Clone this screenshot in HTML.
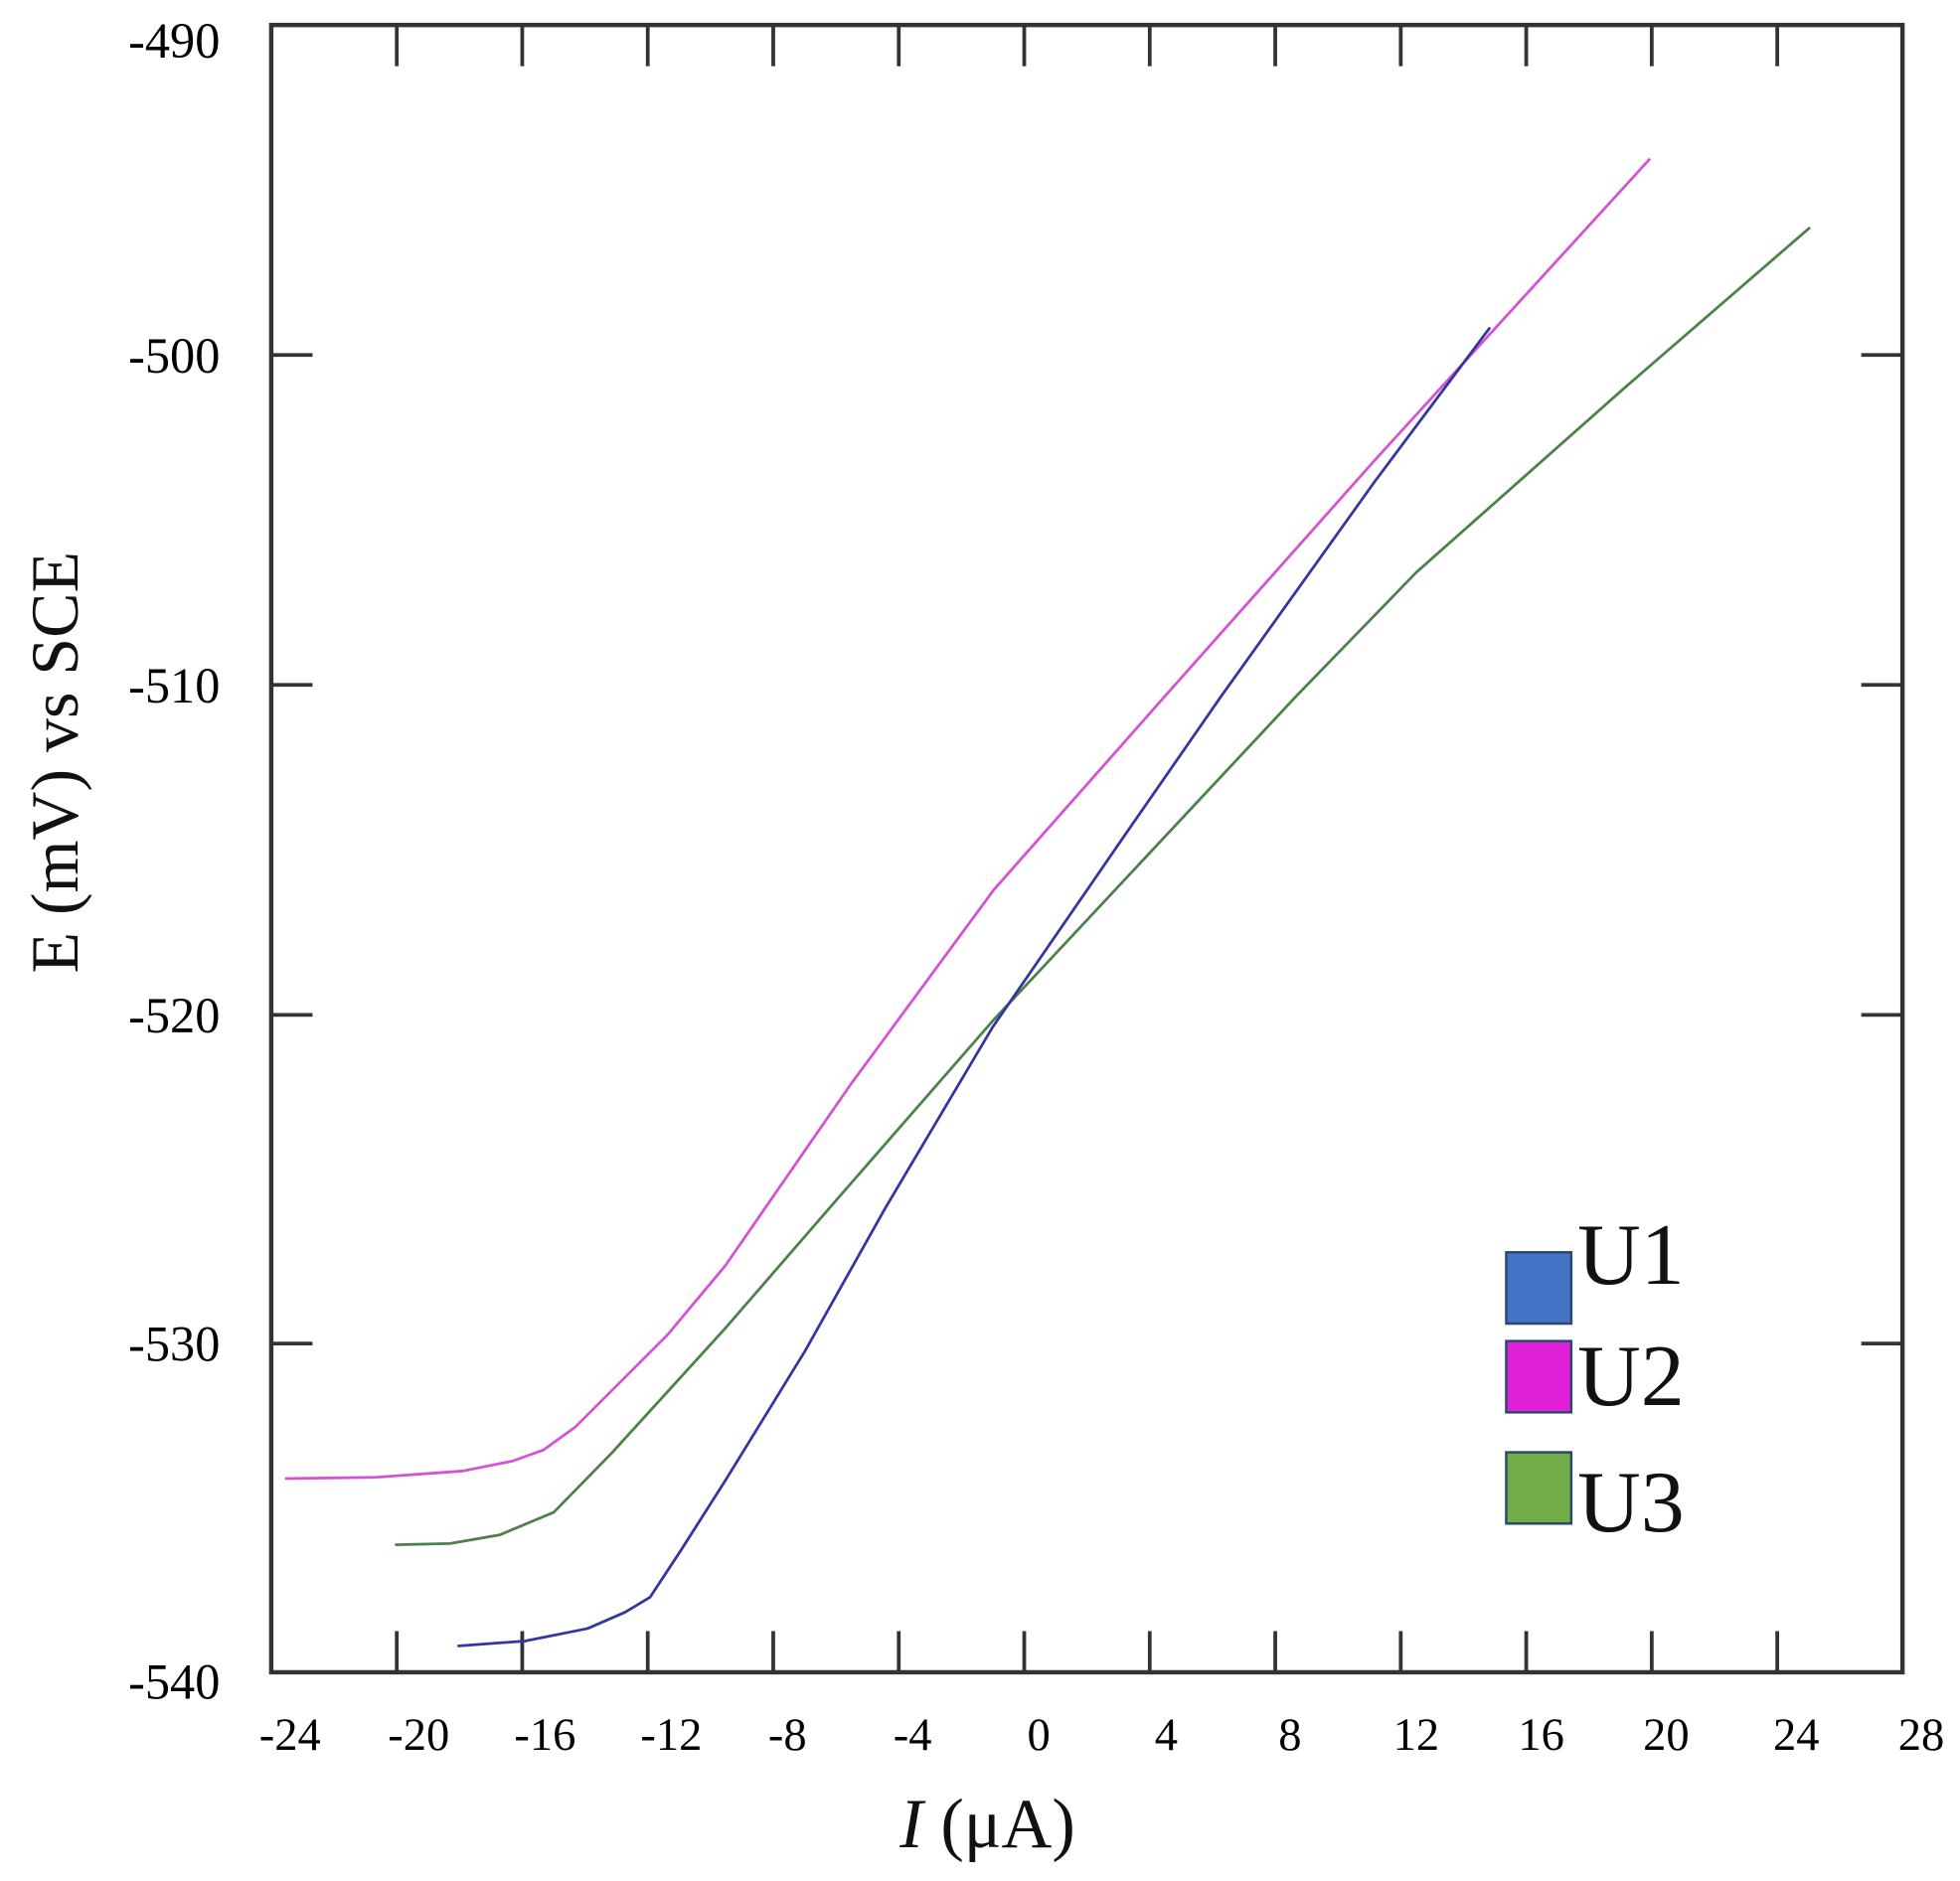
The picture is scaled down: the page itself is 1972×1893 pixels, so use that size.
<!DOCTYPE html>
<html><head><meta charset="utf-8"><style>html,body{margin:0;padding:0;background:#fff}svg{display:block}</style></head>
<body>
<svg width="1972" height="1893" viewBox="0 0 1568 1505" preserveAspectRatio="none" xmlns="http://www.w3.org/2000/svg" font-family="'Liberation Serif', serif">
<rect width="1568" height="1505" fill="#fff"/>
<g stroke="#333" stroke-width="3" fill="none">
<rect x="217" y="20" width="1305" height="1318" stroke-width="3.5"/>
<path d="M317.4 20v33M417.8 20v33M518.2 20v33M618.6 20v33M719 20v33M819.4 20v33M919.8 20v33M1020.2 20v33M1120.6 20v33M1221 20v33M1321.4 20v33M1421.8 20v33
M317.4 1338v-33M417.8 1338v-33M518.2 1338v-33M618.6 1338v-33M719 1338v-33M819.4 1338v-33M919.8 1338v-33M1020.2 1338v-33M1120.6 1338v-33M1221 1338v-33M1321.4 1338v-33M1421.8 1338v-33
M217 284h33M217 548h33M217 812h33M217 1075h33M1522 284h-33M1522 548h-33M1522 812h-33M1522 1075h-33"/>
</g>
<g font-size="40" text-anchor="end" fill="#000">
<text x="176" y="46">-490</text>
<text x="176" y="298">-500</text>
<text x="176" y="562">-510</text>
<text x="176" y="826">-520</text>
<text x="176" y="1089">-530</text>
<text x="176" y="1359">-540</text>
</g>
<g font-size="37" text-anchor="middle" fill="#000">
<text x="232" y="1400">-24</text><text x="335" y="1400">-20</text><text x="436" y="1400">-16</text><text x="537" y="1400">-12</text><text x="630" y="1400">-8</text><text x="730" y="1400">-4</text><text x="831" y="1400">0</text><text x="933" y="1400">4</text><text x="1032" y="1400">8</text><text x="1133" y="1400">12</text><text x="1233" y="1400">16</text><text x="1333" y="1400">20</text><text x="1437" y="1400">24</text><text x="1537" y="1400">28</text>
</g>
<text x="790" y="1478" font-size="56" text-anchor="middle" fill="#111"><tspan font-style="italic">I</tspan> (μA)</text>
<text transform="translate(62,610) rotate(-90)" font-size="54" text-anchor="middle" fill="#111">E (mV) vs SCE</text>
<g fill="none" stroke-width="2.2" stroke-linejoin="round">
<polyline stroke="#d452d4" points="228,1183 300,1182 370,1177 410,1169 435,1160 460,1142 490,1112 534,1068 580,1013 681,867 795,712 932,557 1100,368 1320,127"/>
<polyline stroke="#4e8049" points="316,1236 360,1235 400,1228 443,1210 489,1163 580,1063 671,958 794,817 1037,557 1133,458 1300,310 1448,182"/>
<polyline stroke="#3535a0" points="366,1317 420,1313 470,1303 500,1290 520,1278 545,1240 580,1185 644,1081 708,967 794,822 900,668 977,557 1100,385 1192,262"/>
</g>
<g stroke="#2b4a6a" stroke-width="2">
<rect x="1205" y="1002" width="52" height="57" fill="#4472c4"/>
<rect x="1205" y="1073" width="52" height="57" fill="#e020d8"/>
<rect x="1205" y="1162" width="52" height="57" fill="#70ad47"/>
</g>
<g font-size="70" fill="#111">
<text x="1262" y="1027">U1</text>
<text x="1262" y="1124">U2</text>
<text x="1262" y="1225">U3</text>
</g>
</svg>
</body></html>
